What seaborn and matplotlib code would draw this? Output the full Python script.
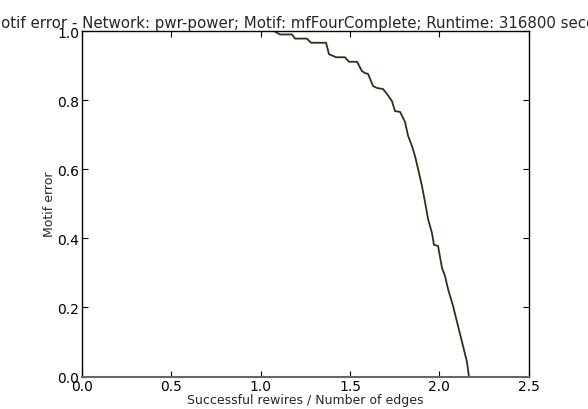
import matplotlib
matplotlib.use("Agg")
import matplotlib.pyplot as plt
import seaborn as sns
import pandas as pd

sns.set_style("white")
plt.rcParams['font.family'] = ['DejaVu Sans']

rewires = [1.074, 1.108, 1.175, 1.192, 1.259, 1.281, 1.366, 1.382, 1.422, 1.472,
           1.494, 1.539, 1.567, 1.584, 1.601, 1.629, 1.651, 1.685, 1.707, 1.735,
           1.752, 1.780, 1.808, 1.825, 1.847, 1.864, 1.881, 1.903, 1.920, 1.937,
           1.959, 1.970, 1.993, 2.015, 2.032, 2.049, 2.077, 2.105, 2.133, 2.155, 2.166]
motif_error = [1.000, 0.990, 0.990, 0.978, 0.978, 0.966, 0.966, 0.933, 0.924, 0.924,
               0.911, 0.911, 0.884, 0.878, 0.876, 0.841, 0.835, 0.832, 0.818, 0.797,
               0.768, 0.766, 0.737, 0.697, 0.667, 0.638, 0.601, 0.551, 0.505, 0.456,
               0.415, 0.381, 0.378, 0.314, 0.291, 0.253, 0.204, 0.146, 0.088, 0.042, 0.0]

title = "Motif error - Network: pwr-power; Motif: mfFourComplete; Runtime: 316800 seconds"
xlabel = "Successful rewires / Number of edges"
ylabel = "Motif error"
xticks = [0.0, 0.5, 1.0, 1.5, 2.0, 2.5]
yticks = [0.0, 0.2, 0.4, 0.6, 0.8, 1.0]

df = pd.DataFrame({"x": rewires, "y": motif_error})

fig = plt.figure(figsize=(5.88, 4.10), dpi=100)
W, H = 588, 410
ax = fig.add_axes([82.1 / W, (H - 377.5) / H, (528.6 - 82.1) / W, (377.5 - 32) / H])

sns.lineplot(data=df, x="x", y="y", ax=ax, color="#3b2a16", linewidth=1.3,
             estimator=None, sort=False)

ax.set_xlim(0, 2.5)
ax.set_ylim(0, 1.0)
ax.set_xticks(xticks)
ax.set_yticks(yticks)
ax.set_xticklabels([f"{t:.1f}" for t in xticks], fontsize=10)
ax.set_yticklabels([f"{t:.1f}" for t in yticks], fontsize=10)
ax.tick_params(direction="in", length=4, width=0.8, top=True, right=True,
               bottom=True, left=True, pad=2, colors="black")
for s in ax.spines.values():
    s.set_color("black")
    s.set_linewidth(1.0)
ax.spines["bottom"].set_color("#666666")
ax.spines["bottom"].set_linewidth(1.5)

ax.set_xlabel(xlabel, fontsize=9, labelpad=0)
ax.set_ylabel(ylabel, fontsize=9, labelpad=1)
ax.set_title(title, fontsize=10.8, pad=3)

fig.savefig("out.png", dpi=100)
